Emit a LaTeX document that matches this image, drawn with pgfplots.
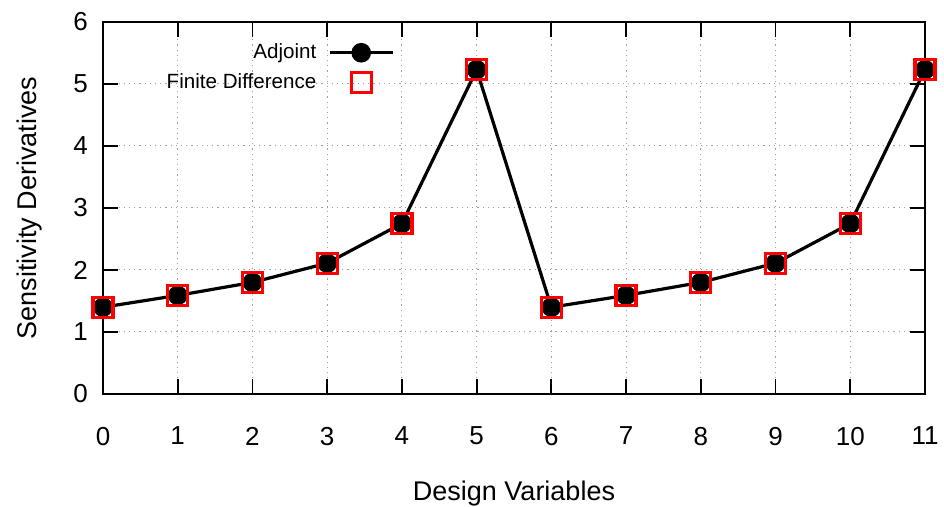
\documentclass[border=0pt]{standalone}
\usepackage{fontspec}
\setmainfont{Liberation Sans}
\usepackage{pgfplots}
\pgfplotsset{compat=1.18}

% legend samples: a long line with the mark in its middle, and a lone mark
\pgfplotsset{
  linelegend/.style={legend image code/.code={%
    \draw[##1, mark repeat=2, mark phase=2]
      plot coordinates {(0cm,0cm) (0.55cm,0cm) (1.1cm,0cm)};}},
  marklegend/.style={legend image code/.code={%
    \path (0cm,0cm) (1.1cm,0cm);
    \draw[##1] plot coordinates {(0.55cm,0cm)};}},
}

\pgfplotstableread{
x  adj   fd
0  1.40  1.40
1  1.59  1.59
2  1.80  1.80
3  2.11  2.11
4  2.75  2.75
5  5.23  5.23
6  1.40  1.40
7  1.59  1.59
8  1.80  1.80
9  2.11  2.11
10 2.75  2.75
11 5.23  5.23
}\sens

\begin{document}
\begin{tikzpicture}
\begin{axis}[
  scale only axis,
  width=411pt, height=186pt,
  xmin=0, xmax=11, ymin=0, ymax=6,
  xtick={0,...,11}, ytick={0,...,6},
  xtick pos=both, ytick pos=both,
  tick align=inside,
  major tick length=7.5pt,
  axis line style={line width=0.9pt},
  every tick/.style={black, line width=0.9pt},
  grid=major,
  grid style={gray!75, line width=0.5pt, dash pattern=on 0.6pt off 2pt},
  /pgf/number format/assume math mode=true,
  ticklabel style={font=\fontsize{13}{15}\selectfont},
  xticklabel style={yshift=-13pt},
  yticklabel style={xshift=-4pt},
  xlabel={Design Variables},
  ylabel={Sensitivity Derivatives},
  label style={font=\fontsize{13.5}{16}\selectfont},
  xlabel style={at={(axis description cs:0.5,-0.268)}, anchor=center},
  ylabel style={at={(axis description cs:-0.089,0.5)}, anchor=center},
  legend plot pos=right,
  legend cell align=right,
  legend style={draw=none, fill=none, at={(rel axis cs:0.362,0.964)},
    anchor=north east, font=\fontsize{10.3}{12}\selectfont,
    row sep=2pt, column sep=4pt},
]
\addplot[black, line width=1.6pt, mark=*, mark size=4.1pt, linelegend]
  table[x=x, y=adj] {\sens};
\addlegendentry{Adjoint}
\addplot[red, only marks, mark=square, mark size=5pt, line width=1.6pt,
  marklegend]
  table[x=x, y=fd] {\sens};
\addlegendentry{Finite Difference}
\end{axis}
\pgfresetboundingbox
\path ([xshift=-51.5pt,yshift=-56.5pt]current axis.south west)
  rectangle ([xshift=9.5pt,yshift=11pt]current axis.north east);
\end{tikzpicture}
\end{document}
